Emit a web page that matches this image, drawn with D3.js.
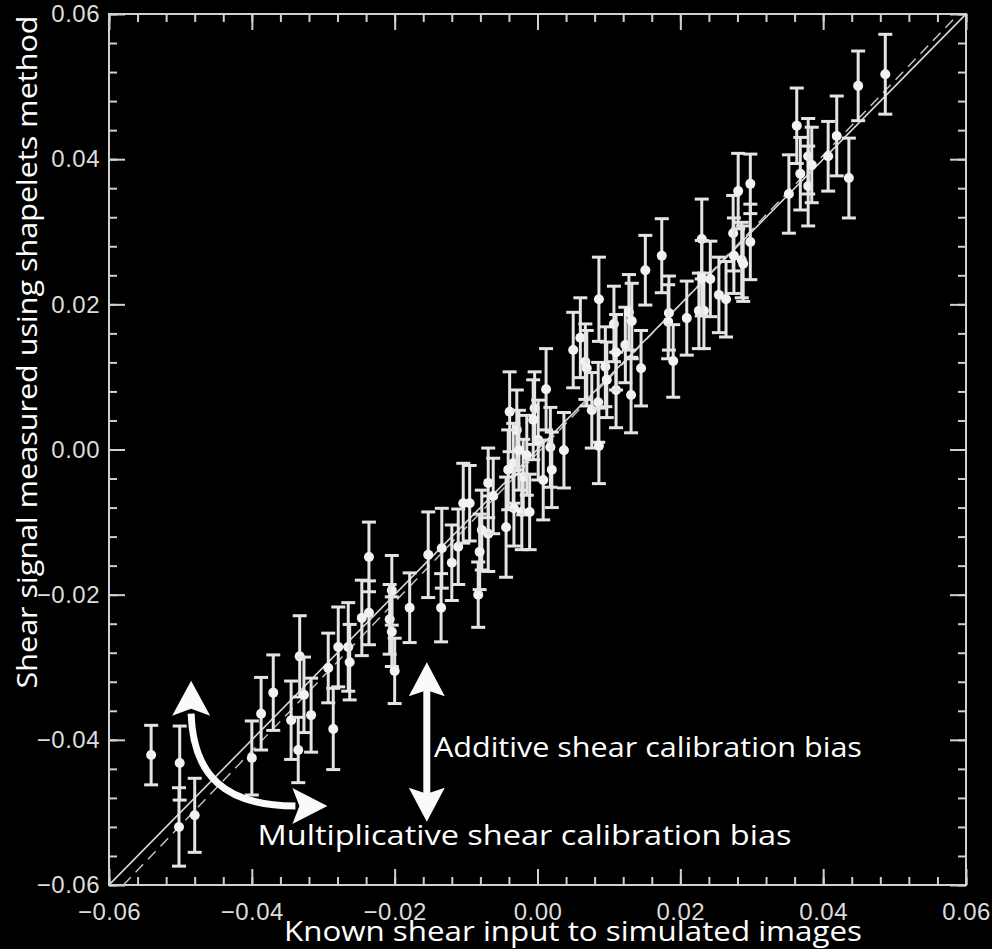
<!DOCTYPE html>
<html>
<head>
    <meta charset="utf-8">
    <title>Shear calibration</title>
    <script src="https://d3js.org/d3.v7.min.js" charset="utf-8"></script>
    <style>
        body { margin: 0; background: #000; }
        .tick line { stroke: #d0d0d0; stroke-width: 2; }
        .ticklabel { font-family: "Liberation Sans", Arial, sans-serif; font-size: 24px; fill: #dcdcdc; letter-spacing: 0.5px; }
        .frame { fill: none; stroke: #d0d0d0; stroke-width: 2; }
        .errbar line { stroke: #e4e4e4; stroke-width: 3; }
        .errbar circle { fill: #f2f2f2; }
        .note { font-family: "Open Sans", "Noto Sans", sans-serif; fill: #fff; }
        .arrow { fill: none; stroke: #fafafa; stroke-width: 7; }
        .arrowhead { fill: #fafafa; }
    </style>
</head>
<body>

<div id="vis"></div>

<script>

    // known (input) shear, measured shear and 1-sigma error
    var shearTrue = [
        -0.0541, -0.0501, -0.0502, -0.0480, -0.0400, -0.0387, -0.0370, -0.0345, -0.0335, -0.0333,
        -0.0327, -0.0317, -0.0286, -0.0293, -0.0279, -0.0265, -0.0263, -0.0246, -0.0236, -0.0236,
        -0.0204, -0.0207, -0.0204, -0.0200, -0.0179, -0.0153, -0.0134, -0.0135, -0.0120, -0.0111,
        -0.0104, -0.0095, -0.0083, -0.0078, -0.0081, -0.0069, -0.0069, -0.0062, -0.0044, -0.0039,
        -0.0034, -0.0029, -0.0033, -0.0022, -0.0020, -0.0015, -0.0011, -0.0004, 0.0001, 0.0012,
        0.0008, 0.0018, 0.0020, 0.0037, 0.0050, 0.0060, 0.0067, 0.0069, 0.0076, 0.0085,
        0.0086, 0.0095, 0.0097, 0.0110, 0.0086, 0.0107, 0.0110, 0.0123, 0.0128, 0.0132,
        0.0131, 0.0145, 0.0151, 0.0174, 0.0184, 0.0183, 0.0190, 0.0209, 0.0226, 0.0233,
        0.0230, 0.0230, 0.0242, 0.0254, 0.0264, 0.0274, 0.0275, 0.0286, 0.0288, 0.0298,
        0.0298, 0.0281, 0.0352, 0.0363, 0.0368, 0.0379, 0.0379, 0.0384, 0.0407, 0.0419,
        0.0436, 0.0449, 0.0487, -0.0006, -0.0026, -0.0041
    ];
    var shearMeasured = [
        -0.0421, -0.0432, -0.0520, -0.0504, -0.0425, -0.0364, -0.0335, -0.0373, -0.0414, -0.0285,
        -0.0338, -0.0366, -0.0385, -0.0301, -0.0272, -0.0272, -0.0293, -0.0232, -0.0148, -0.0225,
        -0.0194, -0.0234, -0.0251, -0.0305, -0.0218, -0.0145, -0.0136, -0.0218, -0.0156, -0.0134,
        -0.0074, -0.0074, -0.0200, -0.0111, -0.0141, -0.0116, -0.0046, -0.0064, -0.0107, 0.0052,
        -0.0019, 0.0027, -0.0081, -0.0086, -0.0038, -0.0008, -0.0086, 0.0057, 0.0013, 0.0083,
        -0.0042, 0.0003, -0.0028, -0.0001, 0.0137, 0.0154, 0.0121, 0.0112, 0.0054, 0.0065,
        0.0005, 0.0114, 0.0096, 0.0082, 0.0207, 0.0173, 0.0134, 0.0144, 0.0189, 0.0177,
        0.0075, 0.0112, 0.0247, 0.0267, 0.0188, 0.0176, 0.0122, 0.0181, 0.0191, 0.0191,
        0.0290, 0.0236, 0.0235, 0.0213, 0.0207, 0.0298, 0.0267, 0.0261, 0.0256, 0.0286,
        0.0366, 0.0356, 0.0352, 0.0446, 0.0380, 0.0404, 0.0363, 0.0392, 0.0404, 0.0432,
        0.0374, 0.0501, 0.0517, 0.0041, -0.0001, -0.0028
    ];
    var shearErr = [
        0.0041, 0.0051, 0.0054, 0.0051, 0.0051, 0.0050, 0.0052, 0.0054, 0.0045, 0.0056,
        0.0052, 0.0051, 0.0056, 0.0048, 0.0055, 0.0061, 0.0052, 0.0052, 0.0048, 0.0044,
        0.0048, 0.0048, 0.0048, 0.0045, 0.0048, 0.0059, 0.0055, 0.0047, 0.0052, 0.0052,
        0.0055, 0.0052, 0.0045, 0.0055, 0.0052, 0.0052, 0.0048, 0.0052, 0.0069, 0.0055,
        0.0055, 0.0055, 0.0052, 0.0052, 0.0052, 0.0055, 0.0052, 0.0050, 0.0055, 0.0056,
        0.0055, 0.0055, 0.0052, 0.0052, 0.0052, 0.0055, 0.0052, 0.0052, 0.0052, 0.0055,
        0.0052, 0.0055, 0.0052, 0.0052, 0.0058, 0.0052, 0.0052, 0.0052, 0.0052, 0.0052,
        0.0052, 0.0052, 0.0048, 0.0051, 0.0051, 0.0051, 0.0050, 0.0051, 0.0052, 0.0052,
        0.0055, 0.0052, 0.0052, 0.0052, 0.0052, 0.0052, 0.0052, 0.0052, 0.0052, 0.0052,
        0.0041, 0.0052, 0.0054, 0.0052, 0.0050, 0.0052, 0.0055, 0.0052, 0.0048, 0.0055,
        0.0055, 0.0048, 0.0055, 0.0055, 0.0055, 0.0055
    ];

    var majorTicks = [-0.06, -0.04, -0.02, 0.00, 0.02, 0.04, 0.06];
    var minorTicks = d3.range(-60, 61, 4).map(function(d){ return d / 1000; });

    // dashed line: best-fit calibration, measured = m * true + c
    var fitSlope = 1.026,
        fitOffset = -0.0005;

    var margin = {top: 14, right: 26, bottom: 64, left: 109},
        width = 992 - margin.left - margin.right,
        height = 949 - margin.top - margin.bottom;

    var svg = d3.select("#vis").append("svg")
        .attr("width", 992)
        .attr("height", 949)
        .style("display", "block")
        .style("background", "#000");

    var g = svg.append("g")
        .attr("transform", "translate(" + margin.left + "," + margin.top + ")");

    var x = d3.scaleLinear().domain([-0.06, 0.06]).range([0, width]);
    var y = d3.scaleLinear().domain([-0.06, 0.06]).range([height, 0]);
    var fmt = d3.format(".2f");

    g.append("clipPath").attr("id", "plotclip")
        .append("rect").attr("width", width).attr("height", height);

    // --- axes: major ticks with labels on left/bottom, plain ticks on top/right, all pointing inward
    function addAxis(axis, transform, labels) {
        var a = g.append("g").attr("transform", transform).call(axis);
        a.attr("font-size", null).attr("font-family", null);
        a.select(".domain").remove();
        if (!labels) a.selectAll("text").remove();
        a.selectAll("text").attr("class", "ticklabel");
        return a;
    }

    addAxis(d3.axisBottom(x).tickValues(majorTicks).tickSizeInner(-16).tickSizeOuter(0).tickPadding(18).tickFormat(fmt),
        "translate(0," + height + ")", true);
    addAxis(d3.axisBottom(x).tickValues(minorTicks).tickSizeInner(-8).tickSizeOuter(0),
        "translate(0," + height + ")", false);
    addAxis(d3.axisTop(x).tickValues(majorTicks).tickSizeInner(-16).tickSizeOuter(0), "translate(0,0)", false);
    addAxis(d3.axisTop(x).tickValues(minorTicks).tickSizeInner(-8).tickSizeOuter(0), "translate(0,0)", false);

    var yl = addAxis(d3.axisLeft(y).tickValues(majorTicks).tickSizeInner(-16).tickSizeOuter(0).tickPadding(9).tickFormat(fmt),
        "translate(0,0)", true);
    yl.selectAll("text").attr("x", -9);
    addAxis(d3.axisLeft(y).tickValues(minorTicks).tickSizeInner(-8).tickSizeOuter(0), "translate(0,0)", false);
    addAxis(d3.axisRight(y).tickValues(majorTicks).tickSizeInner(-16).tickSizeOuter(0), "translate(" + width + ",0)", false);
    addAxis(d3.axisRight(y).tickValues(minorTicks).tickSizeInner(-8).tickSizeOuter(0), "translate(" + width + ",0)", false);

    g.append("rect").attr("class", "frame").attr("width", width).attr("height", height);

    // --- reference lines
    var lines = g.append("g").attr("clip-path", "url(#plotclip)");

    lines.append("line")
        .attr("x1", x(-0.06)).attr("y1", y(-0.06))
        .attr("x2", x(0.06)).attr("y2", y(0.06))
        .style("stroke", "#d8d8d8").style("stroke-width", 1.6);

    lines.append("line")
        .attr("x1", x(-0.065)).attr("y1", y(fitSlope * -0.065 + fitOffset))
        .attr("x2", x(0.065)).attr("y2", y(fitSlope * 0.065 + fitOffset))
        .style("stroke", "#c8c8c8").style("stroke-width", 1.4)
        .style("stroke-dasharray", "11,7");

    // --- data points with error bars
    var pts = shearTrue.map(function(d, i){
        return {x: d, y: shearMeasured[i], e: shearErr[i]};
    });

    var bars = g.append("g").selectAll(".errbar").data(pts)
        .enter().append("g").attr("class", "errbar");

    bars.append("line")
        .attr("x1", function(d){ return x(d.x); })
        .attr("x2", function(d){ return x(d.x); })
        .attr("y1", function(d){ return y(d.y - d.e); })
        .attr("y2", function(d){ return y(d.y + d.e); });
    bars.append("line")
        .attr("x1", function(d){ return x(d.x) - 7; })
        .attr("x2", function(d){ return x(d.x) + 7; })
        .attr("y1", function(d){ return y(d.y + d.e); })
        .attr("y2", function(d){ return y(d.y + d.e); });
    bars.append("line")
        .attr("x1", function(d){ return x(d.x) - 7; })
        .attr("x2", function(d){ return x(d.x) + 7; })
        .attr("y1", function(d){ return y(d.y - d.e); })
        .attr("y2", function(d){ return y(d.y - d.e); });
    bars.append("circle")
        .attr("cx", function(d){ return x(d.x); })
        .attr("cy", function(d){ return y(d.y); })
        .attr("r", 5);

    // --- annotations (anchored in data units)
    var ann = g.append("g");

    // curved arrow: multiplicative bias
    var c0 = [x(-0.0485), y(-0.0364)],
        c1 = [x(-0.0339), y(-0.0491)];
    ann.append("path").attr("class", "arrow")
        .attr("d", "M" + c0[0] + "," + c0[1] +
            " C" + (c0[0] + 2) + "," + (c0[1] + 62) + " " + (c0[0] + 34) + "," + (c1[1]) + " " + c1[0] + "," + c1[1]);
    ann.append("path").attr("class", "arrowhead")
        .attr("d", "M" + c0[0] + "," + (c0[1] - 33) + " L" + (c0[0] + 19) + "," + (c0[1] + 2) +
            " L" + c0[0] + "," + (c0[1] - 5) + " L" + (c0[0] - 19) + "," + (c0[1] + 2) + "Z");
    ann.append("path").attr("class", "arrowhead")
        .attr("d", "M" + (c1[0] + 32) + "," + c1[1] + " L" + (c1[0] - 3) + "," + (c1[1] + 18) +
            " L" + (c1[0] + 4) + "," + c1[1] + " L" + (c1[0] - 3) + "," + (c1[1] - 18) + "Z");

    // straight double arrow: additive bias
    var ax = x(-0.0155), aTop = y(-0.0293), aBot = y(-0.0513);
    ann.append("line").attr("class", "arrow")
        .attr("x1", ax).attr("x2", ax).attr("y1", aTop + 26).attr("y2", aBot - 26);
    ann.append("path").attr("class", "arrowhead")
        .attr("d", "M" + ax + "," + aTop + " L" + (ax + 18) + "," + (aTop + 34) +
            " L" + ax + "," + (aTop + 28) + " L" + (ax - 18) + "," + (aTop + 34) + "Z");
    ann.append("path").attr("class", "arrowhead")
        .attr("d", "M" + ax + "," + aBot + " L" + (ax + 18) + "," + (aBot - 34) +
            " L" + ax + "," + (aBot - 28) + " L" + (ax - 18) + "," + (aBot - 34) + "Z");

    ann.append("text").attr("class", "note")
        .attr("x", x(-0.0145)).attr("y", y(-0.0423))
        .attr("textLength", 428).attr("lengthAdjust", "spacingAndGlyphs")
        .style("font-size", "27px")
        .text("Additive shear calibration bias");

    ann.append("text").attr("class", "note")
        .attr("x", x(-0.0392)).attr("y", y(-0.0545))
        .attr("textLength", 534).attr("lengthAdjust", "spacingAndGlyphs")
        .style("font-size", "27px")
        .text("Multiplicative shear calibration bias");

    // --- axis titles
    svg.append("text").attr("class", "note")
        .attr("transform", "translate(37," + 352 + ") rotate(-90)")
        .attr("text-anchor", "middle")
        .attr("textLength", 673).attr("lengthAdjust", "spacingAndGlyphs")
        .style("font-size", "28px")
        .text("Shear signal measured using shapelets method");

    svg.append("text").attr("class", "note")
        .attr("x", 573).attr("y", 941)
        .attr("text-anchor", "middle")
        .attr("textLength", 578).attr("lengthAdjust", "spacingAndGlyphs")
        .style("font-size", "28px")
        .text("Known shear input to simulated images");

</script>

</body>
</html>
